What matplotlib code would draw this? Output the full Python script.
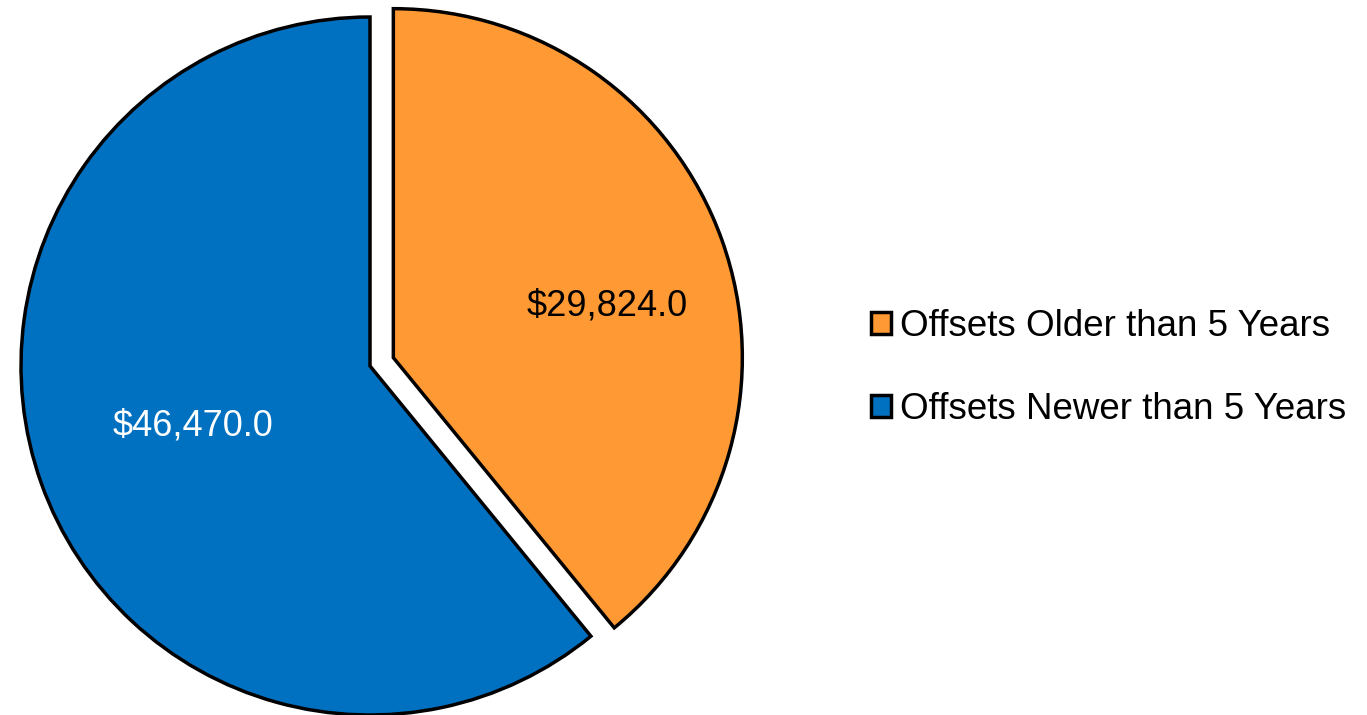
import numpy as np
import matplotlib
matplotlib.use("Agg")
import matplotlib.pyplot as plt
from matplotlib.patches import Patch

plt.rcParams['font.family'] = ['Liberation Sans', 'DejaVu Sans']

labels = ['Offsets Older than 5 Years', 'Offsets Newer than 5 Years']
values = [29824.0, 46470.0]
colors = ['#FF9933', '#0070C0']
text_colors = ['black', 'white']

# label placement inside each wedge: (distance from centre, angle shift in degrees)
label_place = [(0.63, -6.0), (0.535, -1.0)]

fig = plt.figure(figsize=(13.67, 7.15), dpi=100)
W, H = 1367, 715
cx, cy, r = 370, 366, 349
half = 360
ax = fig.add_axes([(cx - half) / W, (H - cy - half) / H, 2 * half / W, 2 * half / H])

wedges, _ = ax.pie(values, colors=colors, startangle=90, counterclock=False,
                   explode=[0.071, 0], radius=1,
                   wedgeprops=dict(edgecolor='black', linewidth=2.5,
                                   joinstyle='miter'))

# pie() resets the limits, so fix them afterwards
ax.set_xlim(-half / r, half / r)
ax.set_ylim(-half / r, half / r)
ax.set_aspect('equal')
ax.axis('off')

for w, v, tc, (dist, shift) in zip(wedges, values, text_colors, label_place):
    mid = np.deg2rad((w.theta1 + w.theta2) / 2 + shift)
    x0, y0 = w.center
    ax.text(x0 + dist * np.cos(mid), y0 + dist * np.sin(mid), f'${v:,.1f}',
            ha='center', va='center', color=tc, fontsize=26)

handles = [Patch(facecolor=c, edgecolor='black', linewidth=2.5) for c in colors]
fig.legend(handles, labels, loc='center left', bbox_to_anchor=(871 / W, 1 - 368 / H),
           frameon=False, fontsize=26.5, handlelength=0.55, handleheight=0.55,
           handletextpad=0.25, labelspacing=1.3, borderaxespad=0, borderpad=0)

fig.savefig('out.png', dpi=100)
